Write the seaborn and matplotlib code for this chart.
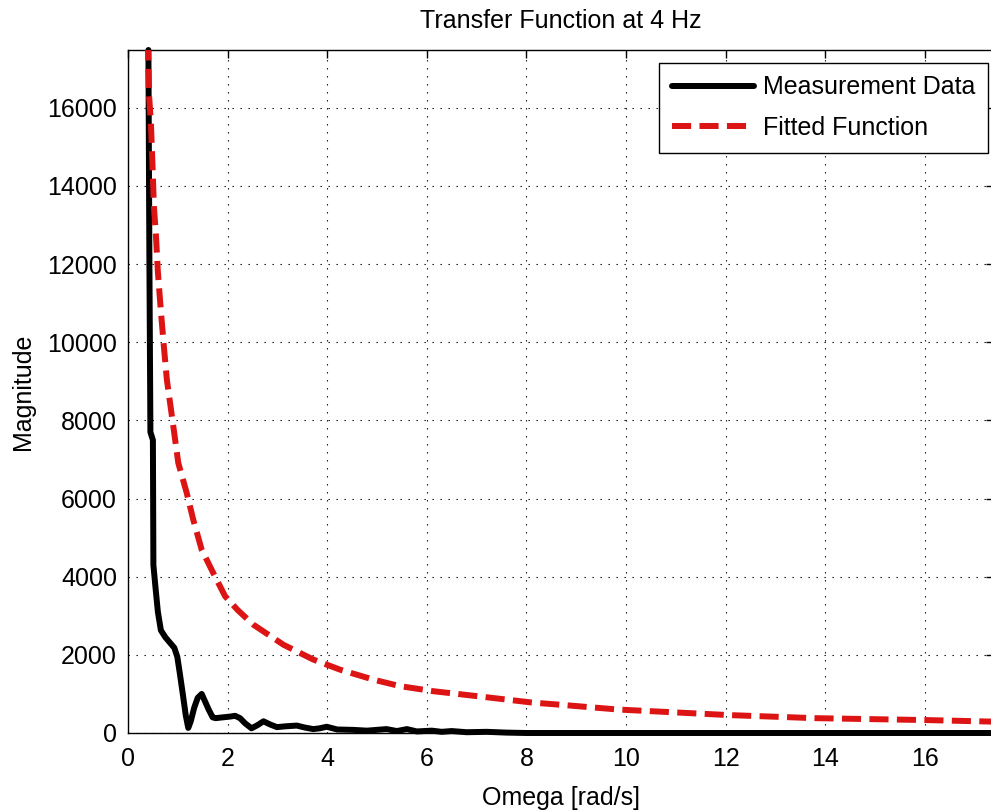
import numpy as np
import pandas as pd
import matplotlib
matplotlib.use("Agg")
import matplotlib.pyplot as plt
import seaborn as sns

# valeurs
omega_meas = [0.41, 0.43, 0.45, 0.50, 0.51, 0.55, 0.60, 0.66, 0.75, 0.85, 0.93, 0.99,
              1.04, 1.10, 1.16, 1.21, 1.26, 1.33, 1.40, 1.48, 1.55, 1.62, 1.70, 1.76,
              1.90, 2.05, 2.15, 2.25, 2.35, 2.48, 2.60, 2.72, 2.85, 2.99, 3.15, 3.39,
              3.55, 3.72, 3.85, 3.99, 4.20, 4.52, 4.80, 5.19, 5.40, 5.60, 5.80, 6.10,
              6.30, 6.50, 6.80, 7.20, 7.60, 8.00, 17.5]
mag_meas = [17480, 12000, 7700, 7500, 4300, 3750, 3100, 2630, 2450, 2300, 2180, 1950,
            1530, 1000, 450, 130, 300, 650, 900, 1000, 800, 600, 400, 380,
            400, 420, 440, 380, 250, 120, 200, 300, 220, 150, 170, 190,
            140, 100, 120, 160, 90, 80, 60, 100, 50, 100, 40, 60,
            30, 50, 20, 30, 10, 0, 0]

omega_fit = [0.40, 0.42, 0.46, 0.49, 0.52, 0.56, 0.60, 0.66, 0.72, 0.78, 0.91, 1.01,
             1.18, 1.31, 1.48, 1.71, 1.95, 2.20, 2.52, 3.12, 3.72, 4.26, 4.93, 5.46,
             6.13, 7.10, 8.11, 8.71, 9.85, 12.04, 13.79, 16.06, 17.4]
mag_fit = [17700, 16380, 15620, 14600, 13480, 12760, 11800, 10800, 9900, 9045, 7850, 6910,
           6140, 5460, 4690, 4100, 3500, 3150, 2770, 2260, 1880, 1620, 1365, 1200,
           1070, 930, 780, 720, 600, 460, 380, 330, 290]

x_ticks = [0, 2, 4, 6, 8, 10, 12, 14, 16]
y_ticks = [0, 2000, 4000, 6000, 8000, 10000, 12000, 14000, 16000]

df_meas = pd.DataFrame({"omega": omega_meas, "mag": mag_meas})
df_fit = pd.DataFrame({"omega": omega_fit, "mag": mag_fit})

sns.set_style("white")
plt.rcParams["font.family"] = ["Liberation Sans", "DejaVu Sans"]
plt.rcParams["text.color"] = "black"
plt.rcParams["axes.labelcolor"] = "black"

fig = plt.figure(figsize=(9.91, 8.10), dpi=100)
ax = fig.add_axes([128 / 991, (810 - 733) / 810, (994 - 128) / 991, (733 - 50) / 810])

# courbe mesurée
sns.lineplot(data=df_meas, x="omega", y="mag", ax=ax, color="black", linewidth=4.3,
             estimator=None, label="Measurement Data", clip_on=False, zorder=3)
# fonction ajustée
sns.lineplot(data=df_fit, x="omega", y="mag", ax=ax, color="#dc1414", linewidth=4.3,
             estimator=None, label="Fitted Function", dashes=False, zorder=4)
ax.lines[1].set_dashes((3.2, 1.4))

ax.set_xlim(0, 17.39)
ax.set_ylim(0, 17480)
ax.set_xticks(x_ticks)
ax.set_yticks(y_ticks)
ax.set_xticklabels([str(v) for v in x_ticks])
ax.set_yticklabels([str(v) for v in y_ticks])

# grille pointillée façon matlab
ax.grid(True, color="black", linewidth=0.8, linestyle=(0, (1.2, 6)))
ax.set_axisbelow(True)

for s in ax.spines.values():
    s.set_color("black")
    s.set_linewidth(1.0)
ax.tick_params(direction="in", length=5.5, width=1, top=True, right=True,
               labelsize=18, pad=8, colors="black")
ax.tick_params(axis="x", pad=10)

ax.set_xlabel("Omega [rad/s]", fontsize=18, labelpad=11)
ax.set_ylabel("Magnitude", fontsize=18, labelpad=9)
ax.set_title("Transfer Function at 4 Hz", fontsize=18, pad=16)

leg = ax.legend(loc="upper right", bbox_to_anchor=(988 / 991, (810 - 63) / 810),
                bbox_transform=fig.transFigure, borderaxespad=0, fontsize=18,
                frameon=True, fancybox=False, framealpha=1, edgecolor="black",
                handlelength=3.3, handletextpad=0.35, labelspacing=0.66, borderpad=0.5)
leg.get_frame().set_linewidth(1.0)

plt.savefig("out.png", dpi=100)
